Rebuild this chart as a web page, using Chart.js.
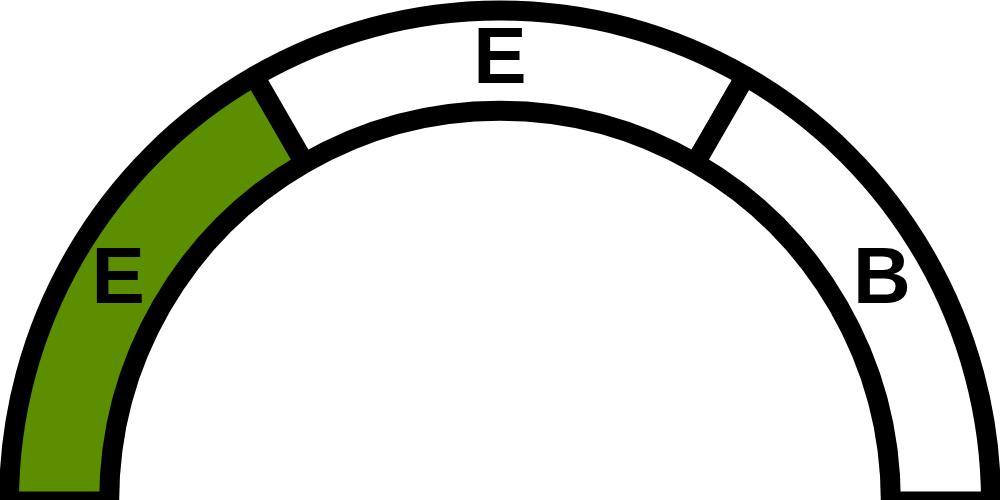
<!DOCTYPE html>
<html>
<head>
<meta charset="utf-8">
<style>
  html, body { margin: 0; padding: 0; overflow: hidden; background: #fff; }
  #wrap { position: relative; width: 1000px; height: 512px; }
</style>
<script src="https://cdn.jsdelivr.net/npm/chart.js@4"></script>
</head>
<body>
<div id="wrap"><canvas id="myChart"></canvas></div>
<script>
const segmentLabels = ['E', 'E', 'B'];
const segmentValues = [1, 1, 1];
const segmentColors = ['#5b8f00', '#ffffff', '#ffffff'];

// writes each segment's letter in the middle of its arc
const arcLabels = {
    id: 'arcLabels',
    afterDatasetsDraw(chart) {
        const ctx = chart.ctx;
        const meta = chart.getDatasetMeta(0);
        ctx.save();
        ctx.font = 'bold 80px "Liberation Sans", Arial, sans-serif';
        ctx.fillStyle = '#000';
        ctx.textAlign = 'center';
        ctx.textBaseline = 'middle';
        meta.data.forEach((arc, i) => {
            const p = arc.getCenterPoint();
            ctx.fillText(segmentLabels[i], p.x, p.y);
        });
        ctx.restore();
    }
};

let ctx = document.getElementById('myChart').getContext('2d');

let myChart = new Chart(ctx, {
    type: 'doughnut',
    data: {
        labels: segmentLabels,
        datasets: [{
            data: segmentValues,
            backgroundColor: segmentColors,
            borderColor: '#000000',
            borderWidth: 20
        }]
    },
    options: {
        responsive: true,
        maintainAspectRatio: false,
        animation: false,
        rotation: -90,
        circumference: 180,
        cutout: '79.6%',
        radius: 491,
        plugins: {
            legend: { display: false },
            tooltip: { enabled: false }
        }
    },
    plugins: [arcLabels]
});
</script>
</body>
</html>
